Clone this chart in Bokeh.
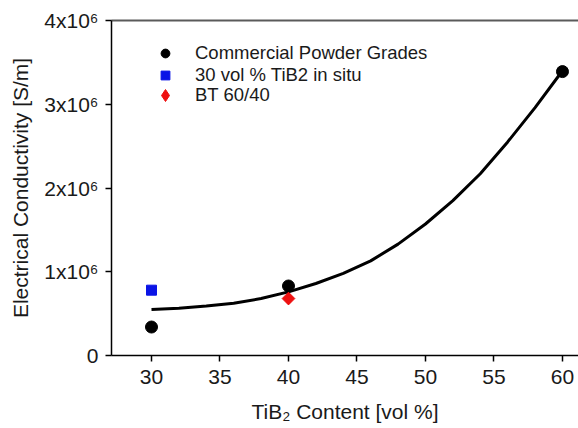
import math
from bokeh.plotting import figure
from bokeh.models import (Range1d, FixedTicker, LinearAxis, Legend, LegendItem)
from bokeh.embed import file_html
from bokeh.resources import INLINE

# Measured electrical conductivity vs. TiB2 content
commercial_x = [30, 40, 60]
commercial_y = [0.34e6, 0.83e6, 3.39e6]

insitu_x = [30]
insitu_y = [0.78e6]

bt_x = [40]
bt_y = [0.68e6]

# Fitted trend through the commercial grades
fit_x = [30, 32, 34, 36, 38, 40, 42, 44, 46, 48, 50, 52, 54, 56, 58, 60]
fit_y = [0.55e6, 0.565e6, 0.59e6, 0.625e6, 0.68e6, 0.76e6, 0.86e6, 0.98e6,
         1.13e6, 1.33e6, 1.57e6, 1.85e6, 2.17e6, 2.55e6, 2.96e6, 3.40e6]

x_ticks = [30, 35, 40, 45, 50, 55, 60]
y_ticks = [0, 1e6, 2e6, 3e6, 4e6]
y_tick_labels = ["0", "1x10\u2076", "2x10\u2076", "3x10\u2076", "4x10\u2076"]

FONT = "Liberation Sans"
TEXT = "#1a1a1a"
RED = "#ee1111"

p = figure(width=578, height=428, output_backend="svg", toolbar_location=None,
           x_range=Range1d(27.08, 61.17), y_range=Range1d(0, 4e6),
           min_border_left=111, min_border_right=0, min_border_top=20,
           min_border_bottom=73, x_axis_location="below", y_axis_location="left")

p.grid.visible = False
p.outline_line_color = None
p.background_fill_color = "white"
p.border_fill_color = "white"

xa = p.xaxis[0]
xa.ticker = FixedTicker(ticks=x_ticks)
xa.axis_label = "TiB\u2082 Content [vol %]"
ya = p.yaxis[0]
ya.ticker = FixedTicker(ticks=y_ticks)
ya.major_label_overrides = {t: s for t, s in zip(y_ticks, y_tick_labels)}
ya.axis_label = "Electrical Conductivity [S/m]"

for ax in (xa, ya):
    ax.axis_line_color = "black"
    ax.axis_line_width = 1.5
    ax.major_tick_line_color = "black"
    ax.major_tick_line_width = 1.5
    ax.major_tick_out = 6
    ax.major_tick_in = 0
    ax.minor_tick_line_color = None
    ax.major_label_text_font = FONT
    ax.major_label_text_font_size = "21px"
    ax.major_label_text_color = TEXT
    ax.axis_label_text_font = FONT
    ax.axis_label_text_font_size = "21px"
    ax.axis_label_text_font_style = "normal"
    ax.axis_label_text_color = TEXT

xa.major_label_standoff = 8
xa.axis_label_standoff = 13
ya.major_label_standoff = 7
ya.axis_label_standoff = 9

# Top frame line: a bare axis with no ticks or labels
top = LinearAxis(ticker=FixedTicker(ticks=[]), major_label_text_font_size="0px",
                 major_label_standoff=0, major_tick_out=0, major_tick_in=0,
                 major_tick_line_color=None, minor_tick_line_color=None,
                 axis_line_color="#5a5a5a", axis_line_width=2)
p.add_layout(top, "above")

fit = p.line(fit_x, fit_y, line_color="black", line_width=3)
r1 = p.scatter(commercial_x, commercial_y, marker="circle", size=12,
               fill_color="black", line_color="black")
r2 = p.scatter(insitu_x, insitu_y, marker="square", size=10,
               fill_color="#0a14e6", line_color="#0a14e6")
# BT point: diamond (used as legend key) under a 45-degree square
r3_key = p.scatter(bt_x, bt_y, marker="diamond", size=12,
                   fill_color=RED, line_color=RED)
r3 = p.scatter(bt_x, bt_y, marker="square", size=9, angle=math.pi / 4,
               fill_color=RED, line_color=RED)

legend_style = dict(padding=0, margin=0, spacing=0, border_line_color=None,
                    background_fill_alpha=0, label_text_font=FONT,
                    label_text_font_size="18.5px", label_text_color=TEXT)

legend = Legend(items=[
    LegendItem(label="Commercial Powder Grades", renderers=[r1]),
    LegendItem(label="30 vol % TiB2 in situ", renderers=[r2]),
], location=(43, 269), glyph_width=22, glyph_height=22, label_height=22,
    label_standoff=19, **legend_style)
p.add_layout(legend, "center")

legend_bt = Legend(items=[
    LegendItem(label="BT 60/40", renderers=[r3_key]),
], location=(39, 245), glyph_width=30, glyph_height=30, label_height=30,
    label_standoff=15, **legend_style)
p.add_layout(legend_bt, "center")

open("out.html", "w").write(file_html(p, INLINE))
